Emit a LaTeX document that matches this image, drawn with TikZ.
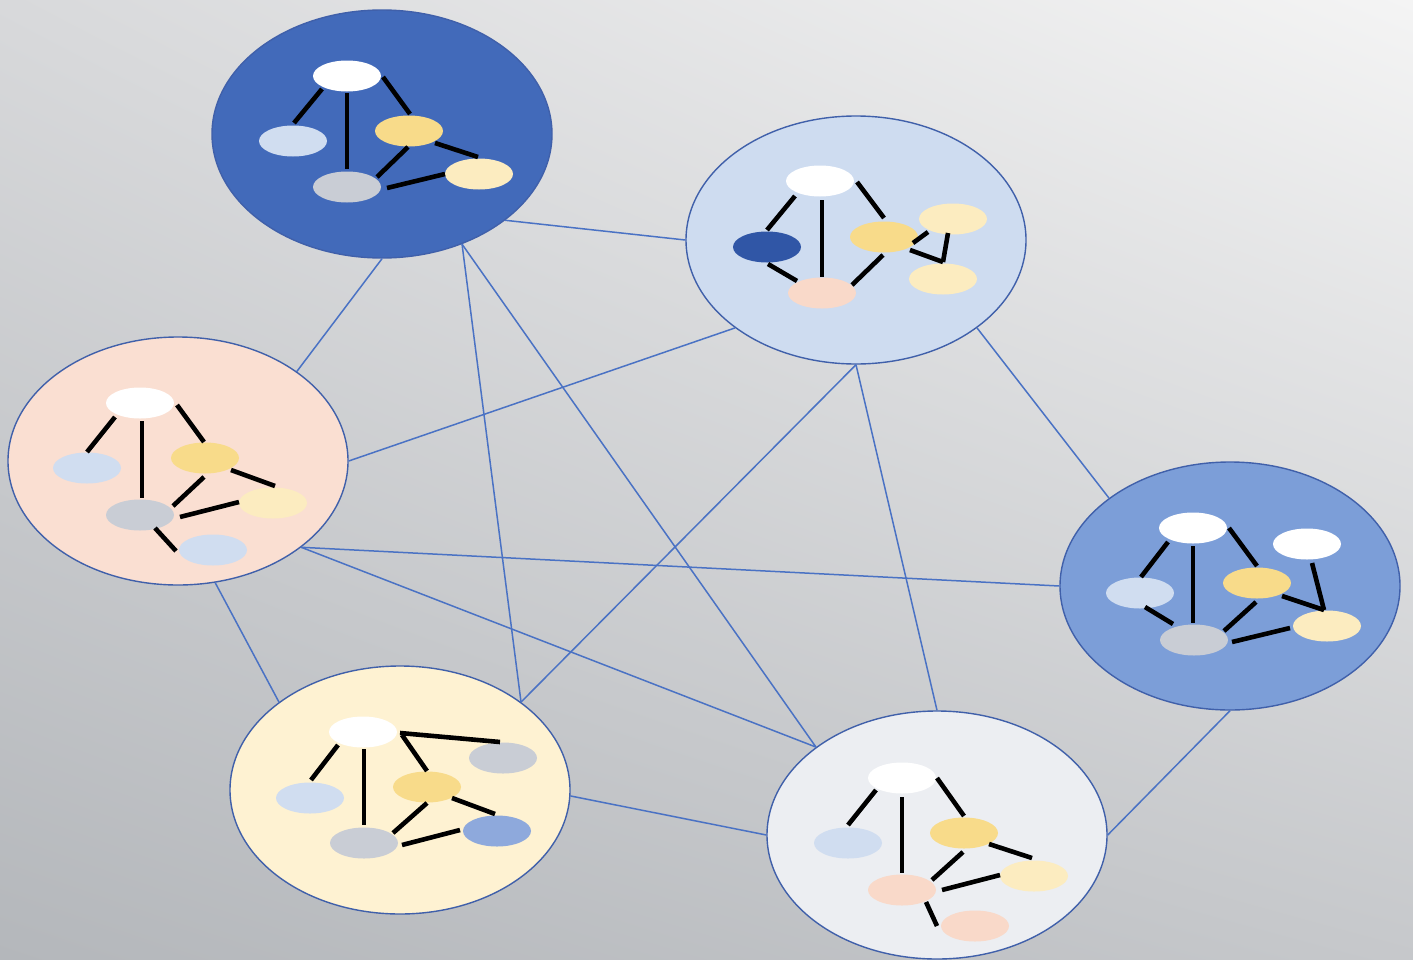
\documentclass[tikz,border=0pt]{standalone}
\usetikzlibrary{shapes.geometric,shadings,calc}
\definecolor{bgUL}{HTML}{D8D9DB}
\definecolor{bgUR}{HTML}{F4F4F4}
\definecolor{bgLL}{HTML}{B4B7BB}
\definecolor{bgLR}{HTML}{C6C8CB}
\definecolor{cborder}{HTML}{4060AA}
\definecolor{clink}{HTML}{4A72C4}
\definecolor{fOne}{HTML}{426ABA}
\definecolor{fTwo}{HTML}{CEDCF0}
\definecolor{fThree}{HTML}{FADFD2}
\definecolor{fFour}{HTML}{7C9ED8}
\definecolor{fFive}{HTML}{FEF2D2}
\definecolor{fSix}{HTML}{ECEEF2}
\definecolor{sLB}{HTML}{D0DDF0}
\definecolor{sYe}{HTML}{F8DB8A}
\definecolor{sLY}{HTML}{FCECC0}
\definecolor{sGr}{HTML}{C9CDD5}
\definecolor{sDB}{HTML}{3056A6}
\definecolor{sPe}{HTML}{F9D9C9}
\definecolor{sBM}{HTML}{8EA9DC}
\tikzset{
  big/.style={ellipse, draw=cborder, line width=0.7pt, minimum width=170pt, minimum height=124pt, inner sep=0pt},
  sm/.style={ellipse, minimum width=34pt, minimum height=15.5pt, inner sep=0pt},
  link/.style={draw=clink, line width=0.75pt},
  inner/.style={line width=2.3pt, draw=black},
}
\newcommand\edj[4]{\draw[inner] ($(#1)+(#2)$) -- ($(#3)+(#4)$);}
\begin{document}
\begin{tikzpicture}[x=0.5pt,y=-0.5pt]
\useasboundingbox (0,0) rectangle (1413,959);
\shade[upper left=bgUL, upper right=bgUR, lower left=bgLL, lower right=bgLR] (0,0) rectangle (1413,959);

% big circles
\node[big, fill=fOne]   (c1) at (382,134) {};
\node[big, fill=fTwo]   (c2) at (856,240) {};
\node[big, fill=fThree] (c3) at (178,461) {};
\node[big, fill=fFour]  (c4) at (1230,586) {};
\node[big, fill=fFive]  (c5) at (400,790) {};
\node[big, fill=fSix]   (c6) at (937,835) {};

% connectors
\draw[link] (c1.-35) -- (c2.180);
\draw[link] (c1.-90) -- (c3.37);
\draw[link] (c1.-54) -- (c5.36);
\draw[link] (c1.-54) -- (c6.144);
\draw[link] (c2.216) -- (c3.0);
\draw[link] (c2.-90) -- (c5.36);
\draw[link] (c2.-90) -- (c6.90);
\draw[link] (c2.-36) -- (c4.144);
\draw[link] (c3.-35) -- (c4.180);
\draw[link] (c3.-35) -- (c6.144);
\draw[link] (c3.-73) -- (c5.144);
\draw[link] (c5.-2) -- (c6.180);
\draw[link] (c4.-90) -- (c6.0);

% circle 1
\node[sm, fill=white] (w1) at (347,76) {};
\node[sm, fill=sLB]   (b1) at (293,141) {};
\node[sm, fill=sYe]   (y1) at (409,131) {};
\node[sm, fill=sLY]   (l1) at (479,174) {};
\node[sm, fill=sGr]   (g1) at (347,187) {};
\edj{w1}{-25,13}{b1}{1,-18}
\edj{w1}{0,17}{g1}{0,-18}
\edj{w1}{36,1}{y1}{1,-17}
\edj{y1}{-1,16}{g1}{30,-10}
\edj{y1}{26,12}{l1}{-1,-17}
\edj{g1}{40,1}{l1}{-34,0}

% circle 2
\node[sm, fill=white] (w2) at (820,181) {};
\node[sm, fill=sDB]   (d2) at (767,247) {};
\node[sm, fill=sYe]   (y2) at (884,237) {};
\node[sm, fill=sLY]   (la2) at (953,219) {};
\node[sm, fill=sLY]   (lb2) at (943,279) {};
\node[sm, fill=sPe]   (p2) at (822,293) {};
\edj{w2}{-25,15}{d2}{0,-17}
\edj{w2}{2,19}{p2}{0,-16}
\edj{w2}{37,1}{y2}{0,-19}
\edj{d2}{1,17}{p2}{-25,-12}
\edj{y2}{-1,18}{p2}{30,-8}
\edj{y2}{29,6}{la2}{-25,13}
\edj{y2}{26,13}{lb2}{0,-17}
\edj{la2}{-5,14}{lb2}{0,-17}

% circle 3
\node[sm, fill=white] (w3) at (140,403) {};
\node[sm, fill=sLB]   (b3) at (87,468) {};
\node[sm, fill=sYe]   (y3) at (205,458) {};
\node[sm, fill=sLY]   (l3) at (273,503) {};
\node[sm, fill=sGr]   (g3) at (140,515) {};
\node[sm, fill=sLB]   (q3) at (213,550) {};
\edj{w3}{-25,14}{b3}{0,-16}
\edj{w3}{2,18}{g3}{2,-17}
\edj{w3}{37,2}{y3}{-1,-16}
\edj{y3}{-1,19}{g3}{33,-9}
\edj{y3}{26,12}{l3}{2,-17}
\edj{g3}{40,2}{l3}{-34,-1}
\edj{g3}{15,13}{q3}{-37,1}

% circle 4
\node[sm, fill=white] (w4) at (1193,528) {};
\node[sm, fill=white] (v4) at (1307,544) {};
\node[sm, fill=sLB]   (b4) at (1140,593) {};
\node[sm, fill=sYe]   (y4) at (1257,583) {};
\node[sm, fill=sGr]   (g4) at (1194,640) {};
\node[sm, fill=sLY]   (l4) at (1327,626) {};
\edj{w4}{-25,14}{b4}{1,-16}
\edj{w4}{0,18}{g4}{-1,-17}
\edj{w4}{36,0}{y4}{0,-17}
\edj{b4}{5,14}{g4}{-21,-16}
\edj{y4}{-1,19}{g4}{30,-9}
\edj{y4}{25,13}{l4}{-3,-16}
\edj{v4}{5,19}{l4}{-3,-16}
\edj{g4}{38,2}{l4}{-37,2}

% circle 5
\node[sm, fill=white] (w5) at (363,732) {};
\node[sm, fill=sLB]   (b5) at (310,798) {};
\node[sm, fill=sYe]   (y5) at (427,787) {};
\node[sm, fill=sGr]   (t5) at (503,758) {};
\node[sm, fill=sBM]   (m5) at (497,831) {};
\node[sm, fill=sGr]   (g5) at (364,843) {};
\edj{w5}{-25,13}{b5}{1,-18}
\edj{w5}{1,17}{g5}{0,-18}
\edj{w5}{39,3}{y5}{0,-16}
\edj{w5}{37,1}{t5}{-3,-16}
\edj{y5}{0,16}{g5}{29,-10}
\edj{y5}{25,11}{m5}{-2,-17}
\edj{g5}{38,2}{m5}{-37,-1}

% circle 6
\node[sm, fill=white] (w6) at (902,778) {};
\node[sm, fill=sLB]   (b6) at (848,843) {};
\node[sm, fill=sYe]   (y6) at (964,833) {};
\node[sm, fill=sLY]   (l6) at (1034,876) {};
\node[sm, fill=sPe]   (p6) at (902,890) {};
\node[sm, fill=sPe]   (q6) at (975,926) {};
\edj{w6}{-26,12}{b6}{0,-18}
\edj{w6}{0,19}{p6}{0,-17}
\edj{w6}{35,0}{y6}{0,-17}
\edj{y6}{-1,19}{p6}{30,-10}
\edj{y6}{25,11}{l6}{-2,-18}
\edj{p6}{40,0}{l6}{-34,-1}
\edj{p6}{24,12}{q6}{-38,0}
\end{tikzpicture}
\end{document}
